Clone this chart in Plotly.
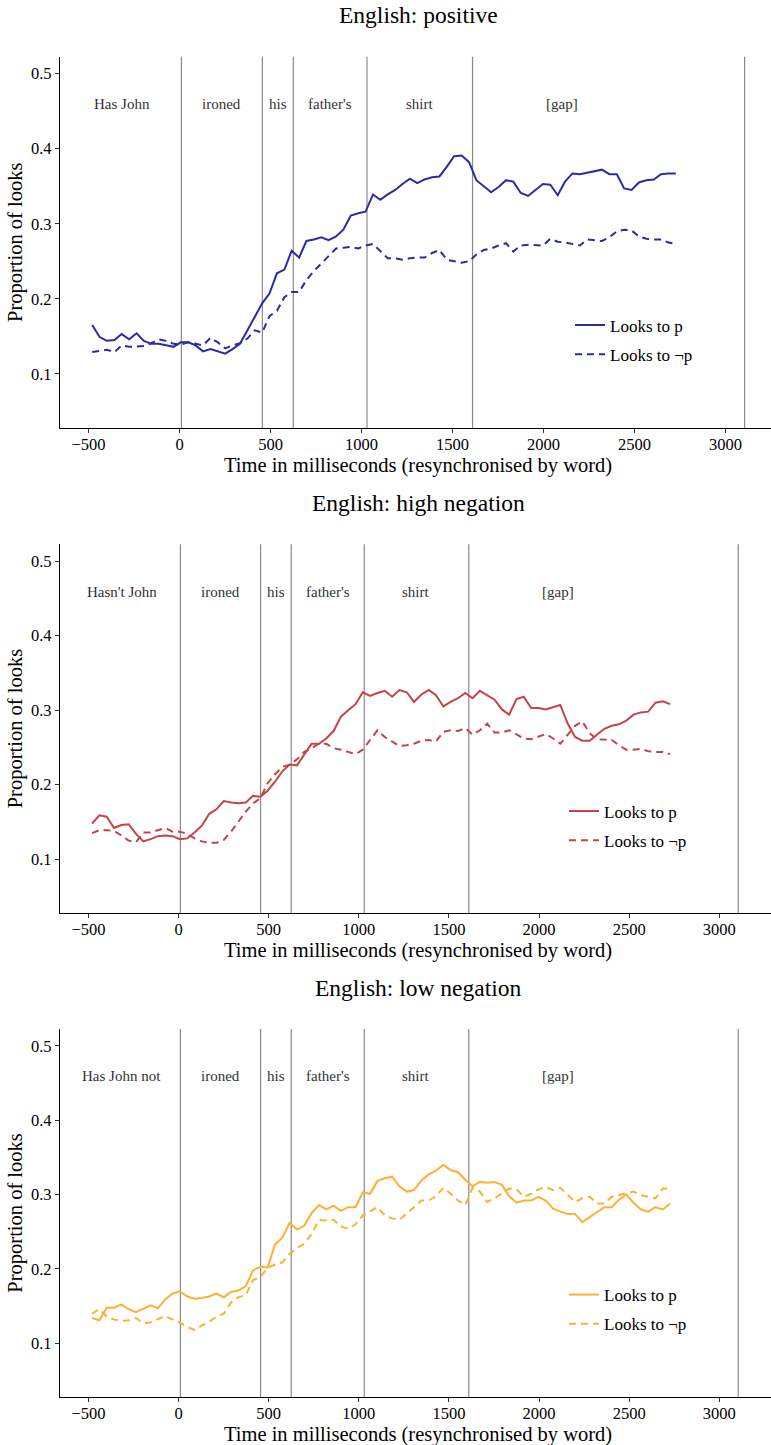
import plotly.graph_objects as go

# ---------------- data ----------------
times = [-480, -439, -399, -358, -318, -277, -236, -196, -155, -115, -74, -33, 7, 48, 88, 129,
         170, 210, 251, 291, 332, 373, 413, 454, 494, 535, 576, 616, 657, 697, 738, 779, 819,
         860, 900, 941, 982, 1022, 1063, 1103, 1144, 1185, 1225, 1266, 1306, 1347, 1388, 1428,
         1469, 1509, 1550, 1591, 1631, 1672, 1712, 1753, 1794, 1834, 1875, 1915, 1956, 1997,
         2037, 2078, 2118, 2159, 2200, 2240, 2281, 2321, 2362, 2403, 2443, 2484, 2524, 2565,
         2606, 2646, 2687, 2727]

pos_p = [.165, .149, .144, .145, .153, .146, .154, .144, .140, .140,
         .138, .136, .142, .142, .138, .130, .133, .130, .127, .133,
         .140, .158, .176, .194, .207, .234, .239, .264, .255, .277,
         .279, .282, .278, .283, .292, .311, .314, .316, .339, .332,
         .339, .345, .353, .360, .354, .359, .362, .363, .376, .390,
         .391, .382, .358, .350, .342, .349, .358, .356, .341, .337,
         .345, .353, .352, .338, .356, .367, .366, .368, .370, .372,
         .366, .366, .347, .345, .355, .358, .359, .366, .367, .367]
pos_np = [.129, .131, .132, .129, .138, .136, .136, .137, .141, .146,
          .144, .140, .139, .142, .140, .138, .148, .142, .134, .138,
          .141, .147, .158, .155, .177, .184, .202, .209, .209, .225,
          .237, .247, .257, .267, .268, .269, .267, .271, .273, .263,
          .254, .254, .252, .254, .255, .255, .261, .265, .252, .250,
          .248, .250, .259, .265, .267, .271, .274, .263, .271, .272,
          .272, .271, .280, .276, .275, .273, .271, .279, .278, .277,
          .282, .290, .292, .291, .283, .280, .279, .279, .275, .273]

high_p = [.148, .159, .157, .142, .146, .147, .134, .124, .127, .131,
          .132, .131, .127, .128, .136, .145, .161, .167, .178, .176,
          .175, .176, .185, .184, .192, .204, .218, .227, .226, .241,
          .255, .255, .262, .272, .291, .300, .308, .324, .319, .323,
          .326, .318, .327, .324, .311, .321, .327, .320, .305, .311,
          .316, .323, .316, .326, .320, .314, .301, .294, .315, .318,
          .303, .303, .301, .304, .307, .282, .264, .259, .259, .267,
          .275, .279, .281, .286, .294, .297, .298, .310, .312, .308]
high_np = [.135, .139, .139, .138, .132, .125, .123, .136, .136, .139,
           .142, .137, .137, .134, .128, .124, .122, .122, .126, .137,
           .151, .164, .175, .182, .202, .214, .224, .227, .234, .244,
           .249, .255, .255, .249, .247, .244, .241, .247, .260, .273,
           .264, .258, .252, .253, .255, .259, .260, .258, .271, .273,
           .272, .276, .267, .273, .282, .270, .270, .273, .267, .262,
           .261, .265, .268, .262, .255, .267, .279, .285, .269, .261,
           .260, .260, .253, .247, .247, .248, .245, .244, .244, .241]

low_p = [.134, .131, .148, .148, .152, .146, .142, .146, .151, .147,
         .159, .167, .170, .163, .160, .161, .163, .167, .162, .169,
         .171, .177, .198, .203, .202, .233, .242, .262, .253, .258,
         .275, .286, .280, .285, .278, .283, .283, .303, .301, .318,
         .322, .324, .311, .304, .306, .319, .327, .332, .340, .333,
         .330, .320, .311, .317, .316, .317, .313, .298, .289, .292,
         .292, .297, .292, .281, .277, .274, .274, .263, .270, .276,
         .283, .283, .293, .300, .289, .280, .277, .283, .280, .288]
low_np = [.140, .146, .136, .132, .130, .131, .134, .127, .128, .132,
          .137, .132, .128, .122, .118, .124, .129, .136, .140, .155,
          .162, .165, .185, .189, .202, .206, .209, .220, .228, .234,
          .247, .266, .265, .266, .257, .254, .260, .272, .277, .283,
          .272, .268, .266, .274, .283, .292, .292, .298, .309, .301,
          .292, .286, .309, .304, .290, .295, .302, .308, .307, .297,
          .301, .307, .310, .306, .309, .299, .290, .295, .297, .288,
          .288, .297, .299, .302, .304, .299, .297, .295, .308, .308]

word_onsets = [10, 455, 625, 1030, 1610, 3105]
word_label_x = [-315, 232, 540, 827, 1320, 2103]
word_label_y = 0.459
words_pos = ["Has John", "ironed", "his", "father's", "shirt", "[gap]"]
words_high = ["Hasn't John", "ironed", "his", "father's", "shirt", "[gap]"]
words_low = ["Has John not", "ironed", "his", "father's", "shirt", "[gap]"]

panel_titles = ["English: positive", "English: high negation", "English: low negation"]
series_names = ["Looks to p", "Looks to \u00acp"]
colors = ["#2B2BA3", "#C5434A", "#FDB131"]

x_ticks = [-500, 0, 500, 1000, 1500, 2000, 2500, 3000]
y_ticks = [0.1, 0.2, 0.3, 0.4, 0.5]

# ---------------- layout geometry ----------------
W, H = 771, 1445
FONT = "Liberation Serif"
panel_px = [(56.7, 428.3), (544.3, 913.3), (1029.0, 1397.3)]
x_ranges = [[-657, 3250], [-658, 3287], [-658, 3287]]
title_px = [15, 503, 988]
xtitle_px = [465.5, 950.5, 1434]
legend_px = [(570, 340), (564, 826), (564, 1309.5)]
y_range = [0.0275, 0.5225]

panels = [
    (pos_p, pos_np, words_pos),
    (high_p, high_np, words_high),
    (low_p, low_np, words_low),
]

fig = go.Figure()
annotations = []
shapes = []

for k, (sp, snp, words) in enumerate(panels):
    sfx = "" if k == 0 else str(k + 1)
    xa, ya = "x" + sfx, "y" + sfx
    leg = "legend" + sfx
    col = colors[k]
    fig.add_trace(go.Scatter(x=times, y=sp, mode="lines", name=series_names[0],
                             line=dict(color=col, width=2), xaxis=xa, yaxis=ya,
                             legend=leg, legendgroup=f"a{k}", hoverinfo="skip"))
    fig.add_trace(go.Scatter(x=times, y=snp, mode="lines", name=series_names[1],
                             line=dict(color=col, width=2, dash="7px,5px"), xaxis=xa, yaxis=ya,
                             legend=leg, legendgroup=f"b{k}", hoverinfo="skip"))
    top, bot = panel_px[k]
    dom = [1 - bot / H, 1 - top / H]
    ax_common = dict(showgrid=False, zeroline=False, showline=True, linecolor="black",
                     linewidth=1.3, ticks="outside", ticklen=4, tickcolor="#333333",
                     tickwidth=1, tickfont=dict(family=FONT, size=16.5, color="black"),
                     automargin=False)
    fig.layout["xaxis" + sfx] = dict(domain=[0, 1], range=x_ranges[k], anchor=ya,
                                     tickvals=x_ticks, ticklabelstandoff=-3, **ax_common)
    fig.layout["yaxis" + sfx] = dict(domain=dom, range=y_range, anchor=xa,
                                     tickvals=y_ticks, tickformat=".1f", **ax_common)
    for xo in word_onsets:
        shapes.append(dict(type="line", xref=xa, yref=ya + " domain", x0=xo, x1=xo,
                           y0=0, y1=1, line=dict(color="#8a8a8a", width=1.2), layer="below"))
    for wx, wl in zip(word_label_x, words):
        annotations.append(dict(x=wx, y=word_label_y, xref=xa, yref=ya, text=wl,
                                showarrow=False, font=dict(family=FONT, size=15, color="#333333")))
    # panel title
    annotations.append(dict(x=(418 - 60) / (W - 60), y=1 - title_px[k] / H, xref="paper",
                            yref="paper", text=panel_titles[k], showarrow=False,
                            xanchor="center", yanchor="middle",
                            font=dict(family=FONT, size=23.5, color="black")))
    # x title
    annotations.append(dict(x=(418 - 60) / (W - 60), y=1 - xtitle_px[k] / H, xref="paper",
                            yref="paper",
                            text="Time in milliseconds (resynchronised by word)", showarrow=False,
                            xanchor="center", yanchor="middle",
                            font=dict(family=FONT, size=20.5, color="black")))
    # y title
    annotations.append(dict(x=(15.5 - 60) / (W - 60), y=1 - (top + bot) / 2 / H, xref="paper",
                            yref="paper", text="Proportion of looks", showarrow=False,
                            textangle=-90, xanchor="center", yanchor="middle",
                            font=dict(family=FONT, size=20.5, color="black")))
    lx, ly = legend_px[k]
    fig.layout[leg] = dict(x=(lx - 60) / (W - 60), y=1 - ly / H, xanchor="left",
                           yanchor="middle", xref="paper", yref="paper",
                           traceorder="grouped", tracegroupgap=4,
                           bgcolor="rgba(0,0,0,0)",
                           font=dict(family=FONT, size=17, color="black"))

fig.update_layout(width=W, height=H, margin=dict(l=60, r=0, t=0, b=0),
                  paper_bgcolor="white", plot_bgcolor="white",
                  showlegend=True, annotations=annotations, shapes=shapes,
                  font=dict(family=FONT))

fig.write_html("out.html", config={"displayModeBar": False},
               post_script="document.body.style.margin='0';document.body.style.overflow='hidden';")
